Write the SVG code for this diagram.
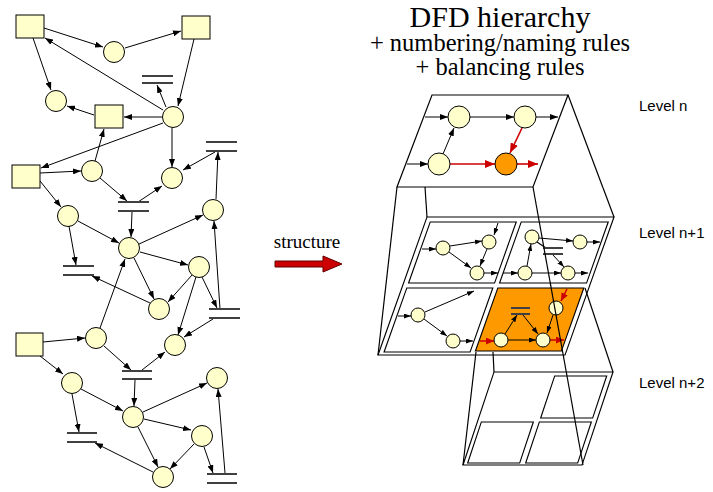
<svg xmlns="http://www.w3.org/2000/svg" width="713" height="492" viewBox="0 0 713 492">
  <style>
    .proc { fill: #FFFFCC; stroke: #000; stroke-width: 1; }
    .hot { fill: #FF9900; stroke: #000; stroke-width: 1; }
    .ext { fill: #FFFFCC; stroke: #000; stroke-width: 1; }
    .store { stroke: #404040; stroke-width: 1.8; fill: none; }
    .flow { stroke: #000; stroke-width: 1; fill: none; marker-end: url(#ah); }
    .flow-s { stroke: #000; stroke-width: 1; fill: none; marker-end: url(#ahs); }
    .flow-r { stroke: #CC0000; stroke-width: 1.6; fill: none; marker-end: url(#ahr); }
    .flow-rs { stroke: #CC0000; stroke-width: 1.5; fill: none; marker-end: url(#ahrs); }
    .edge { stroke: #000; stroke-width: 1.2; fill: none; }
    .plane { fill: #fff; stroke: #000; stroke-width: 1.2; }
    .serif { font-family: "Liberation Serif", "Times New Roman", serif; fill: #000; }
    .lvl { font-family: "Liberation Sans", Arial, sans-serif; font-size: 15px; fill: #000; }
  </style>
  <defs>
    <marker id="ah" markerUnits="userSpaceOnUse" markerWidth="8" markerHeight="6" refX="8" refY="3" orient="auto">
      <path d="M0,0 L8,3 L0,6 z" fill="#000"/>
    </marker>
    <marker id="ahs" markerUnits="userSpaceOnUse" markerWidth="7" markerHeight="5" refX="7" refY="2.5" orient="auto">
      <path d="M0,0 L7,2.5 L0,5 z" fill="#000"/>
    </marker>
    <marker id="ahr" markerUnits="userSpaceOnUse" markerWidth="10" markerHeight="8" refX="10" refY="4" orient="auto">
      <path d="M0,0 L10,4 L0,8 z" fill="#CC0000"/>
    </marker>
    <marker id="ahrs" markerUnits="userSpaceOnUse" markerWidth="8" markerHeight="7" refX="8" refY="3.5" orient="auto">
      <path d="M0,0 L8,3.5 L0,7 z" fill="#CC0000"/>
    </marker>
  </defs>
  <rect width="713" height="492" fill="#fff"/>

  <!-- ===== Flat DFD (left) : flows ===== -->
  <g id="flat-flows">
    <line class="flow" x1="44" y1="28" x2="103" y2="47"/>
    <line class="flow" x1="125" y1="48" x2="181" y2="31"/>
    <line class="flow" x1="33" y1="38" x2="51" y2="90"/>
    <line class="flow" x1="163" y1="110" x2="45" y2="38"/>
    <line class="flow" x1="194" y1="39" x2="178" y2="106"/>
    <line class="flow" x1="166" y1="107" x2="157" y2="85"/>
    <line class="flow" x1="162" y1="117" x2="124" y2="117"/>
    <line class="flow" x1="94" y1="115" x2="67" y2="106"/>
    <line class="flow" x1="163" y1="123" x2="41" y2="168"/>
    <line class="flow" x1="95" y1="161" x2="104" y2="129"/>
    <line class="flow" x1="172" y1="128" x2="172" y2="167"/>
    <line class="flow" x1="215" y1="152" x2="183" y2="170"/>
    <line class="flow" x1="216" y1="199" x2="218" y2="152"/>
    <line class="flow" x1="40" y1="173" x2="81" y2="171"/>
    <line class="flow" x1="40" y1="181" x2="61" y2="207"/>
    <line class="flow" x1="100" y1="178" x2="127" y2="201"/>
    <line class="flow" x1="138" y1="202" x2="162" y2="186"/>
    <line class="flow" x1="132" y1="212" x2="131" y2="237"/>
    <line class="flow" x1="78" y1="221" x2="119" y2="243"/>
    <line class="flow" x1="69" y1="226" x2="76" y2="265"/>
    <line class="flow" x1="139" y1="244" x2="203" y2="215"/>
    <line class="flow" x1="140" y1="252" x2="188" y2="265"/>
    <line class="flow" x1="134" y1="258" x2="154" y2="299"/>
    <line class="flow" x1="192" y1="275" x2="168" y2="302"/>
    <line class="flow" x1="202" y1="277" x2="217" y2="308"/>
    <line class="flow" x1="220" y1="309" x2="214" y2="221"/>
    <line class="flow" x1="150" y1="303" x2="92" y2="276"/>
    <line class="flow" x1="100" y1="328" x2="125" y2="259"/>
    <line class="flow" x1="196" y1="277" x2="178" y2="335"/>
    <line class="flow" x1="213" y1="319" x2="184" y2="337"/>
    <line class="flow" x1="43" y1="342" x2="85" y2="338"/>
    <line class="flow" x1="40" y1="356" x2="63" y2="374"/>
    <line class="flow" x1="104" y1="346" x2="131" y2="370"/>
    <line class="flow" x1="142" y1="370" x2="165" y2="352"/>
    <line class="flow" x1="135" y1="380" x2="134" y2="406"/>
    <line class="flow" x1="81" y1="389" x2="123" y2="411"/>
    <line class="flow" x1="72" y1="394" x2="79" y2="432"/>
    <line class="flow" x1="143" y1="412" x2="207" y2="383"/>
    <line class="flow" x1="225" y1="473" x2="218" y2="389"/>
    <line class="flow" x1="144" y1="419" x2="191" y2="430"/>
    <line class="flow" x1="138" y1="427" x2="158" y2="467"/>
    <line class="flow" x1="194" y1="444" x2="170" y2="469"/>
    <line class="flow" x1="204" y1="447" x2="213" y2="473"/>
    <line class="flow" x1="153" y1="472" x2="95" y2="443"/>
  </g>

  <!-- ===== Flat DFD (left) : nodes ===== -->
  <g id="ext-a"><rect class="ext" x="16" y="15" width="28" height="23"/></g>
  <g id="ext-c"><rect class="ext" x="182" y="16" width="28" height="23"/></g>
  <g id="ext-e"><rect class="ext" x="95" y="105" width="28" height="23"/></g>
  <g id="ext-g"><rect class="ext" x="12" y="165" width="28" height="23"/></g>
  <g id="ext-r"><rect class="ext" x="16" y="333" width="27" height="23"/></g>

  <g id="proc-b"><circle class="proc" cx="114" cy="52" r="10.5"/></g>
  <g id="proc-d"><circle class="proc" cx="56" cy="101" r="10.5"/></g>
  <g id="proc-f"><circle class="proc" cx="173" cy="117" r="10.5"/></g>
  <g id="proc-h"><circle class="proc" cx="92" cy="171" r="10.5"/></g>
  <g id="proc-i"><circle class="proc" cx="172" cy="178" r="10.5"/></g>
  <g id="proc-j"><circle class="proc" cx="68" cy="216" r="10.5"/></g>
  <g id="proc-k"><circle class="proc" cx="129" cy="248" r="10.5"/></g>
  <g id="proc-l"><circle class="proc" cx="213" cy="210" r="10.5"/></g>
  <g id="proc-m"><circle class="proc" cx="199" cy="267" r="10.5"/></g>
  <g id="proc-n"><circle class="proc" cx="159" cy="309" r="10.5"/></g>
  <g id="proc-p"><circle class="proc" cx="96" cy="338" r="10.5"/></g>
  <g id="proc-q"><circle class="proc" cx="175" cy="345" r="10.5"/></g>
  <g id="proc-s"><circle class="proc" cx="72" cy="383" r="10.5"/></g>
  <g id="proc-t"><circle class="proc" cx="217" cy="378" r="10.5"/></g>
  <g id="proc-u"><circle class="proc" cx="133" cy="417" r="10.5"/></g>
  <g id="proc-v"><circle class="proc" cx="202" cy="436" r="10.5"/></g>
  <g id="proc-w"><circle class="proc" cx="163" cy="477" r="10.5"/></g>

  <g id="store-1"><path class="store" d="M142,76 H173 M142,83 H173"/></g>
  <g id="store-2"><path class="store" d="M206,142 H237 M206,151 H237"/></g>
  <g id="store-3"><path class="store" d="M118,202 H149 M118,211 H149"/></g>
  <g id="store-4"><path class="store" d="M63,266 H94 M63,275 H94"/></g>
  <g id="store-5"><path class="store" d="M209,309 H240 M209,318 H240"/></g>
  <g id="store-6"><path class="store" d="M122,371 H152 M122,379 H152"/></g>
  <g id="store-7"><path class="store" d="M67,433 H97 M67,442 H97"/></g>
  <g id="store-8"><path class="store" d="M207,474 H237 M207,483 H237"/></g>

  <!-- ===== "structure" arrow ===== -->
  <g id="structure-arrow">
    <text class="serif" x="307" y="248" font-size="19" text-anchor="middle">structure</text>
    <polygon points="275,261 323,261 323,256 342,264 323,272 323,267 275,267" fill="#CC0000" stroke="#600000" stroke-width="1"/>
  </g>

  <!-- ===== Title ===== -->
  <g id="title">
    <text class="serif" x="500" y="27" font-size="30" text-anchor="middle">DFD hierarchy</text>
    <text class="serif" x="500" y="51" font-size="24.5" text-anchor="middle">+ numbering/naming rules</text>
    <text class="serif" x="500" y="75" font-size="24.5" text-anchor="middle">+ balancing rules</text>
  </g>

  <!-- ===== Hierarchy: frustum edges behind the planes ===== -->
  <g id="hier-edges">
    <line class="edge" x1="568" y1="95" x2="614" y2="217"/>
    <line class="edge" x1="397" y1="187" x2="378" y2="355"/>
    <line class="edge" x1="425" y1="187" x2="427" y2="217"/>
  </g>

  <!-- Level n plane -->
  <g id="level-n">
    <polygon class="plane" points="432,95 568,95 533,187 397,187"/>
  </g>

  <!-- Level n+1 plane with four sub-diagrams -->
  <g id="level-n1" transform="translate(427,217) skewX(-19.54)">
    <rect class="plane" x="0" y="0" width="187" height="138"/>
    <rect class="plane" x="5" y="5" width="86" height="61"/>
    <rect class="plane" x="96" y="5" width="87" height="61"/>
    <rect class="plane" x="5" y="71" width="86" height="64"/>
    <rect x="96" y="71" width="86" height="63" fill="#FF9900" stroke="#000" stroke-width="1.2"/>
  </g>

  <!-- Level n+2 plane -->
  <g id="level-n2" transform="translate(494,372) skewX(-18.43)">
    <rect class="plane" x="0" y="0" width="119" height="93"/>
    <rect class="plane" x="62" y="4" width="52" height="42"/>
    <rect class="plane" x="4" y="50" width="52" height="41"/>
    <rect class="plane" x="62" y="50" width="52" height="41"/>
  </g>

  <!-- edges in front of the lower planes -->
  <g id="hier-edges-front">
    <line class="edge" x1="585" y1="288" x2="613" y2="372"/>
    <line class="edge" x1="476" y1="352" x2="463" y2="465"/>
    <line class="edge" x1="493" y1="352" x2="494" y2="372"/>
  </g>

  <!-- ===== Level n diagram ===== -->
  <g id="level-n-flows">
    <line class="flow" x1="425" y1="117" x2="448" y2="117"/>
    <line class="flow" x1="470" y1="117" x2="514" y2="117"/>
    <line class="flow" x1="536" y1="117" x2="558" y2="117"/>
    <line class="flow" x1="407" y1="164" x2="428" y2="164"/>
    <line class="flow" x1="443" y1="154" x2="454" y2="128"/>
    <line class="flow-r" x1="450" y1="164" x2="495" y2="164"/>
    <line class="flow-r" x1="522" y1="128" x2="510" y2="153"/>
    <line class="flow-r" x1="517" y1="164" x2="538" y2="164"/>
  </g>
  <g id="ln-a"><circle class="proc" cx="459" cy="117" r="11"/></g>
  <g id="ln-b"><circle class="proc" cx="525" cy="117" r="11"/></g>
  <g id="ln-c"><circle class="proc" cx="439" cy="164" r="11"/></g>
  <g id="ln-d"><circle class="hot" cx="506" cy="164" r="11"/></g>

  <!-- ===== Level n+1 diagrams ===== -->
  <g id="level-n1-flows">
    <!-- top-left -->
    <line class="flow-s" x1="498" y1="223" x2="494" y2="235"/>
    <line class="flow-s" x1="422" y1="249" x2="436" y2="249"/>
    <line class="flow-s" x1="450" y1="246" x2="482" y2="241"/>
    <line class="flow-s" x1="449" y1="252" x2="471" y2="268"/>
    <line class="flow-s" x1="487" y1="249" x2="480" y2="266"/>
    <line class="flow-s" x1="484" y1="273" x2="498" y2="273"/>
    <!-- top-right -->
    <line class="flow-s" x1="503" y1="273" x2="518" y2="273"/>
    <line class="flow-s" x1="527" y1="266" x2="531" y2="244"/>
    <line class="flow-s" x1="539" y1="238" x2="573" y2="241"/>
    <line class="flow-s" x1="587" y1="242" x2="600" y2="242"/>
    <line class="edge" x1="537" y1="242" x2="546" y2="248" stroke-width="1"/>
    <line class="flow-s" x1="553" y1="255" x2="564" y2="267"/>
    <line class="flow-s" x1="532" y1="273" x2="561" y2="273"/>
    <line class="flow-s" x1="575" y1="273" x2="588" y2="273"/>
    <!-- bottom-left -->
    <line class="flow-s" x1="398" y1="316" x2="411" y2="316"/>
    <line class="flow-s" x1="425" y1="312" x2="474" y2="291"/>
    <line class="flow-s" x1="424" y1="319" x2="447" y2="336"/>
    <line class="flow-s" x1="460" y1="341" x2="473" y2="341"/>
    <!-- bottom-right -->
    <line class="flow-rs" x1="480" y1="341" x2="494" y2="341"/>
    <line class="flow-s" x1="505" y1="334" x2="517" y2="315"/>
    <line class="flow-s" x1="523" y1="315" x2="538" y2="334"/>
    <line class="flow-s" x1="508" y1="340" x2="536" y2="340"/>
    <line class="flow-s" x1="553" y1="315" x2="547" y2="333"/>
    <line class="flow-rs" x1="567" y1="289" x2="561" y2="301"/>
    <line class="flow-rs" x1="550" y1="340" x2="564" y2="340"/>
  </g>
  <g id="n1-store-a"><path class="store" d="M543,248 H563 M543,254 H563" stroke-width="1.4"/></g>
  <g id="n1-store-b"><path class="store" d="M511,308 H530 M511,314 H530" stroke="#000" stroke-width="1.4"/></g>
  <g id="n1-e"><circle class="proc" cx="443" cy="248" r="7"/></g>
  <g id="n1-f"><circle class="proc" cx="489" cy="242" r="7"/></g>
  <g id="n1-g"><circle class="proc" cx="477" cy="273" r="7"/></g>
  <g id="n1-h"><circle class="proc" cx="532" cy="237" r="7"/></g>
  <g id="n1-i"><circle class="proc" cx="525" cy="273" r="7"/></g>
  <g id="n1-j"><circle class="proc" cx="580" cy="242" r="7"/></g>
  <g id="n1-k"><circle class="proc" cx="568" cy="273" r="7"/></g>
  <g id="n1-l"><circle class="proc" cx="418" cy="315" r="7"/></g>
  <g id="n1-m"><circle class="proc" cx="453" cy="341" r="7"/></g>
  <g id="n1-n"><circle class="proc" cx="501" cy="340" r="7"/></g>
  <g id="n1-o"><circle class="proc" cx="543" cy="340" r="7"/></g>
  <g id="n1-p"><circle class="proc" cx="556" cy="308" r="7"/></g>

  <!-- long edge crossing level n+1 down to level n+2 -->
  <line class="edge" x1="533" y1="187" x2="583" y2="465"/>

  <!-- ===== Level labels ===== -->
  <g id="labels">
    <text class="lvl" x="639" y="111">Level n</text>
    <text class="lvl" x="639" y="238">Level n+1</text>
    <text class="lvl" x="639" y="388">Level n+2</text>
  </g>
</svg>
